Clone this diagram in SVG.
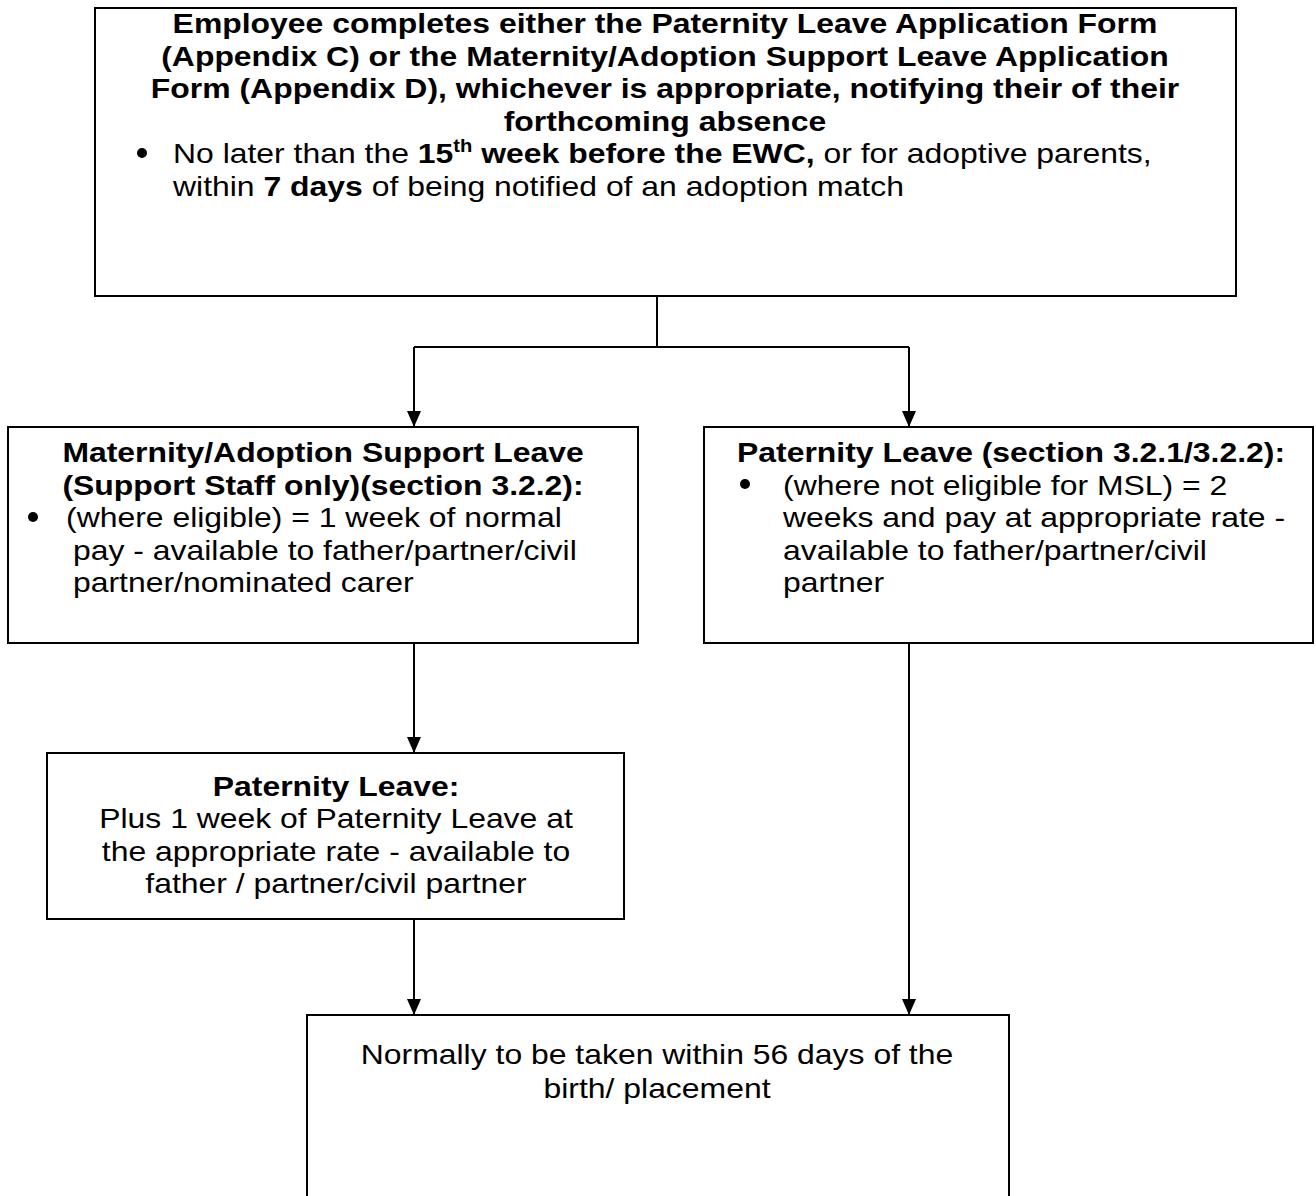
<svg xmlns="http://www.w3.org/2000/svg" width="1316" height="1196" viewBox="0 0 1316 1196">
<style>
.box{fill:#fff;stroke:#000;stroke-width:2}
text{font-family:"Liberation Sans",Arial,sans-serif;font-size:28.5px;fill:#000}
.b{font-weight:bold}
.c{text-anchor:middle}
.conn{stroke:#000;stroke-width:2;fill:none}
</style>
<defs>
<marker id="arr" markerWidth="16" markerHeight="14" refX="16" refY="7" orient="auto" markerUnits="userSpaceOnUse" viewBox="0 0 16 14">
<path d="M0,0 L16,7 L0,14 Z" fill="#000"/>
</marker>
</defs>
<rect width="1316" height="1196" fill="#fff"/>
<g id="connectors">
<path class="conn" d="M657,296 V347"/>
<path class="conn" d="M414,347 H909"/>
<path class="conn" d="M414,347 V427" marker-end="url(#arr)"/>
<path class="conn" d="M909,347 V427" marker-end="url(#arr)"/>
<path class="conn" d="M414,643 V753" marker-end="url(#arr)"/>
<path class="conn" d="M414,919 V1015" marker-end="url(#arr)"/>
<path class="conn" d="M909,643 V1015" marker-end="url(#arr)"/>
</g>
<g id="top">
<rect class="box" x="95" y="8" width="1141" height="288"/>
<text class="b c" transform="translate(665,33) scale(1.12,1)">Employee completes either the Paternity Leave Application Form</text>
<text class="b c" transform="translate(665,65.5) scale(1.12,1)">(Appendix C) or the Maternity/Adoption Support Leave Application</text>
<text class="b c" transform="translate(665,98) scale(1.12,1)">Form (Appendix D), whichever is appropriate, notifying their of their</text>
<text class="b c" transform="translate(665,130.5) scale(1.12,1)">forthcoming absence</text>
<circle cx="142" cy="153" r="5"/>
<text transform="translate(173,163) scale(1.12,1)">No later than the <tspan class="b">15</tspan><tspan class="b" font-size="18" dy="-11">th</tspan><tspan class="b" dy="11"> week before the EWC,</tspan> or for adoptive parents,</text>
<text transform="translate(173,195.5) scale(1.12,1)">within <tspan class="b">7 days</tspan> of being notified of an adoption match</text>
</g>
<g id="msl">
<rect class="box" x="8" y="427" width="630" height="216"/>
<text class="b c" transform="translate(323,462) scale(1.12,1)">Maternity/Adoption Support Leave</text>
<text class="b c" transform="translate(323,494.5) scale(1.12,1)">(Support Staff only)(section 3.2.2):</text>
<circle cx="33" cy="517" r="5"/>
<text transform="translate(66,527) scale(1.12,1)">(where eligible) = 1 week of normal</text>
<text transform="translate(73,559.5) scale(1.12,1)">pay - available to father/partner/civil</text>
<text transform="translate(73,592) scale(1.12,1)">partner/nominated carer</text>
</g>
<g id="pl">
<rect class="box" x="704" y="427" width="609" height="216"/>
<text class="b c" transform="translate(1011,462) scale(1.12,1)">Paternity Leave (section 3.2.1/3.2.2):</text>
<circle cx="745" cy="484" r="5"/>
<text transform="translate(783,494.5) scale(1.12,1)">(where not eligible for MSL) = 2</text>
<text transform="translate(783,527) scale(1.12,1)">weeks and pay at appropriate rate -</text>
<text transform="translate(783,559.5) scale(1.12,1)">available to father/partner/civil</text>
<text transform="translate(783,592) scale(1.12,1)">partner</text>
</g>
<g id="pl2">
<rect class="box" x="47" y="753" width="577" height="166"/>
<text class="b c" transform="translate(336,795.5) scale(1.12,1)">Paternity Leave:</text>
<text class="c" transform="translate(336,828) scale(1.12,1)">Plus 1 week of Paternity Leave at</text>
<text class="c" transform="translate(336,860.5) scale(1.12,1)">the appropriate rate - available to</text>
<text class="c" transform="translate(336,893) scale(1.12,1)">father / partner/civil partner</text>
</g>
<g id="final">
<rect class="box" x="307" y="1015" width="702" height="200"/>
<text class="c" transform="translate(657,1064) scale(1.12,1)">Normally to be taken within 56 days of the</text>
<text class="c" transform="translate(657,1098) scale(1.12,1)">birth/ placement</text>
</g>
</svg>
